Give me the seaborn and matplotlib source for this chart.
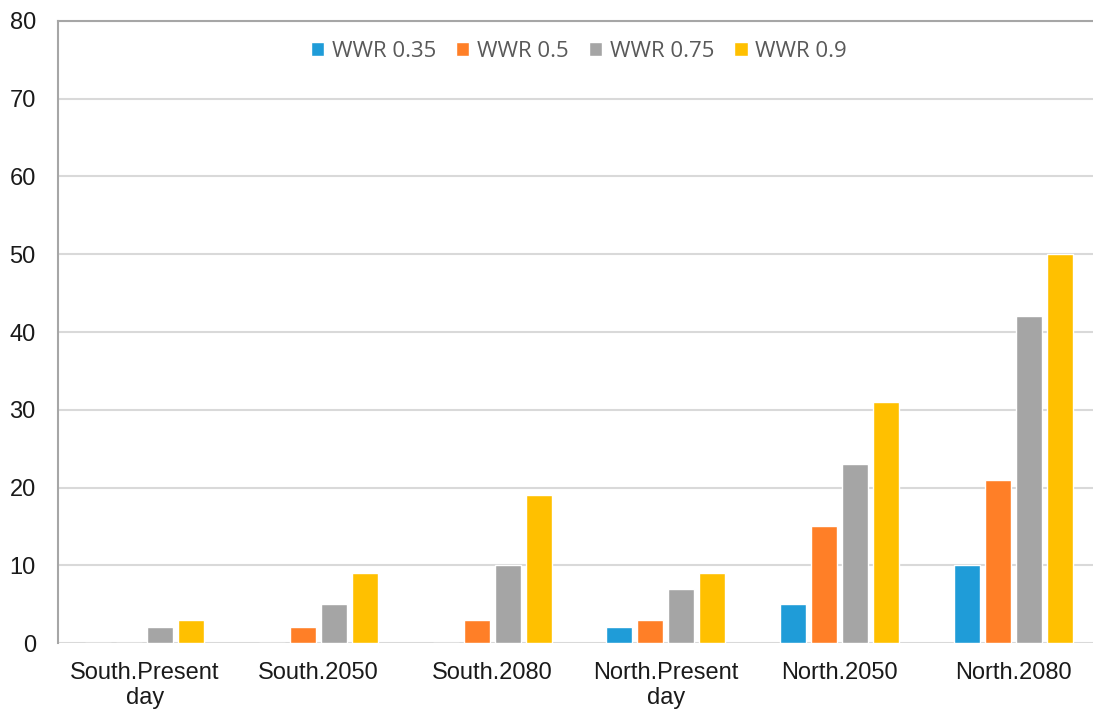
import numpy as np
import seaborn as sns
import matplotlib.pyplot as plt
import pandas as pd

categories = ['South.Present\nday', 'South.2050', 'South.2080',
              'North.Present\nday', 'North.2050', 'North.2080']
series = ['WWR 0.35', 'WWR 0.5', 'WWR 0.75', 'WWR 0.9']
wwr_035 = [0, 0, 0, 2, 5, 10]
wwr_05 = [0, 2, 3, 3, 15, 21]
wwr_075 = [2, 5, 10, 7, 23, 42]
wwr_09 = [3, 9, 19, 9, 31, 50]

colors = ['#1F9CD8', '#FF7F27', '#A5A5A5', '#FFC000']

rows = []
for name, vals in zip(series, [wwr_035, wwr_05, wwr_075, wwr_09]):
    for cat, v in zip(categories, vals):
        rows.append([cat, name, v])
df = pd.DataFrame(rows, columns=['category', 'series', 'value'])

sns.set_style('white')
plt.rcParams['font.family'] = ['Liberation Sans', 'DejaVu Sans']

fig = plt.figure(figsize=(10.93, 7.11), dpi=100)
# plot area runs a little past the right edge of the picture, as in the source
ax = fig.add_axes([0.0531, 0.0956, 0.9533, 0.8749])

sns.barplot(data=df, x='category', y='value', hue='series',
            palette=colors, width=0.715, gap=0.16, saturation=1,
            order=categories, hue_order=series, ax=ax, legend=True)

ax.set_ylim(0, 80)
ax.set_xlim(-0.5, 5.5)
ax.set_yticks(np.arange(0, 81, 10))
ax.yaxis.grid(True, color='#D9D9D9', lw=1.5)
ax.set_axisbelow(True)
ax.set_xlabel('')
ax.set_ylabel('')
ax.tick_params(axis='x', labelsize=17, colors='#1A1A1A', length=0, pad=14)
ax.tick_params(axis='y', labelsize=17, colors='#1A1A1A', length=0, pad=16)
for lbl in ax.get_xticklabels():
    lbl.set_linespacing(1.12)

for s in ['right', 'bottom']:
    ax.spines[s].set_visible(False)
ax.spines['left'].set_color('#A6A6A6')
ax.spines['left'].set_linewidth(1.5)
ax.spines['top'].set_color('#A6A6A6')
ax.spines['top'].set_linewidth(1.5)

leg = ax.legend(loc='upper center', bbox_to_anchor=(0.5, 1.0), ncol=4,
                frameon=False, handlelength=0.6, handleheight=0.6,
                handletextpad=0.35, columnspacing=0.9,
                prop={'family': 'Open Sans', 'size': 16})
for t in leg.get_texts():
    t.set_color('#595959')

fig.savefig('out.png', dpi=100)
